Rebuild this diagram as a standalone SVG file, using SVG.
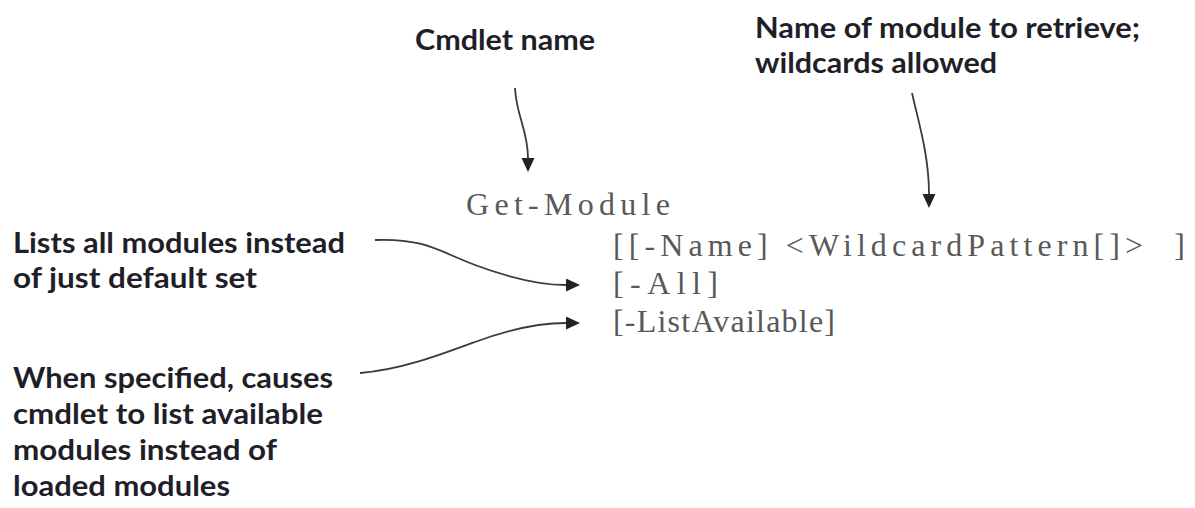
<svg xmlns="http://www.w3.org/2000/svg" width="1195" height="508" viewBox="0 0 1195 508">
  <style>
    .note { font-family: Lato, "Liberation Sans", sans-serif; font-weight: 700; font-size: 29px; fill: #1f1f29; }
    .code { font-family: "Liberation Serif", serif; font-size: 32px; fill: #595959; }
    .conn { fill: none; stroke: #3a3a3a; stroke-width: 1.8; }
  </style>
  <defs>
    <marker id="ah" markerUnits="userSpaceOnUse" markerWidth="16" markerHeight="14" refX="0" refY="6.5" orient="auto">
      <path d="M0,0 L14,6.5 L0,13 z" fill="#222"/>
    </marker>
  </defs>
  <rect width="1195" height="508" fill="#ffffff"/>

  <g id="label-cmdlet-name">
    <text class="note" x="415" y="50" textLength="180" lengthAdjust="spacingAndGlyphs">Cmdlet name</text>
  </g>
  <g id="label-name-module">
    <text class="note" x="755" y="38" textLength="385" lengthAdjust="spacingAndGlyphs">Name of module to retrieve;</text>
    <text class="note" x="755" y="73" textLength="242" lengthAdjust="spacingAndGlyphs">wildcards allowed</text>
  </g>
  <g id="label-lists-all">
    <text class="note" x="13" y="253" textLength="332" lengthAdjust="spacingAndGlyphs">Lists all modules instead</text>
    <text class="note" x="13" y="288" textLength="244" lengthAdjust="spacingAndGlyphs">of just default set</text>
  </g>
  <g id="label-when-specified">
    <text class="note" x="13" y="388" textLength="320" lengthAdjust="spacingAndGlyphs">When specified, causes</text>
    <text class="note" x="13" y="424" textLength="310" lengthAdjust="spacingAndGlyphs">cmdlet to list available</text>
    <text class="note" x="13" y="460" textLength="264" lengthAdjust="spacingAndGlyphs">modules instead of</text>
    <text class="note" x="13" y="496" textLength="217" lengthAdjust="spacingAndGlyphs">loaded modules</text>
  </g>

  <g id="syntax">
    <text class="code" x="466" y="215" font-size="35" textLength="204" lengthAdjust="spacing">Get-Module</text>
    <text class="code" x="613" y="256" textLength="572" lengthAdjust="spacing" xml:space="preserve">[[-Name] &lt;WildcardPattern[]&gt;  ]</text>
    <text class="code" x="613" y="294" textLength="105" lengthAdjust="spacing">[-All]</text>
    <text class="code" x="613" y="332" textLength="222" lengthAdjust="spacing">[-ListAvailable]</text>
  </g>

  <g id="connectors">
    <path class="conn" d="M515,88 C516,115 528,130 528,158" marker-end="url(#ah)"/>
    <path class="conn" d="M912,93 C918,120 929,155 929,194" marker-end="url(#ah)"/>
    <path class="conn" d="M375,240 C425,238 440,252 475,265 C510,278 540,285 566,285" marker-end="url(#ah)"/>
    <path class="conn" d="M360,373 C400,370 440,355 475,342 C510,329 540,323 566,323" marker-end="url(#ah)"/>
  </g>
</svg>
